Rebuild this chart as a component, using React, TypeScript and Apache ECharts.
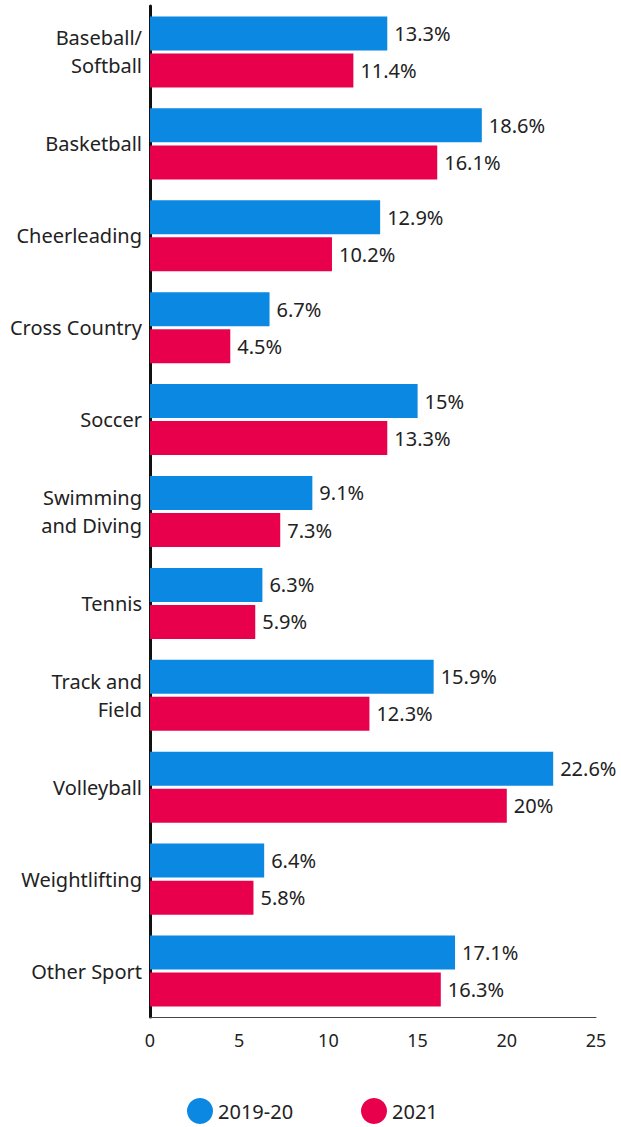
import React, { useEffect, useRef } from "react";
import * as echarts from "echarts";

const categories = [
  "Baseball/\nSoftball",
  "Basketball",
  "Cheerleading",
  "Cross Country",
  "Soccer",
  "Swimming\nand Diving",
  "Tennis",
  "Track and\nField",
  "Volleyball",
  "Weightlifting",
  "Other Sport",
];
const series2019 = [13.3, 18.6, 12.9, 6.7, 15, 9.1, 6.3, 15.9, 22.6, 6.4, 17.1];
const series2021 = [11.4, 16.1, 10.2, 4.5, 13.3, 7.3, 5.9, 12.3, 20, 5.8, 16.3];
const seriesNames = ["2019-20", "2021"];
const colors = ["#0a88e2", "#e8004c"];

const FONT = "'Noto Sans', sans-serif";

export default function App() {
  const ref = useRef<HTMLDivElement>(null);
  useEffect(() => {
    const chart = echarts.init(ref.current!, null, { renderer: "svg" });
    const label = {
      show: true,
      position: "right",
      distance: 7,
      formatter: "{c}%",
      color: "#222",
      fontSize: 20,
      fontFamily: FONT,
    };
    const legendBase = {
      top: 1093,
      icon: "circle",
      itemWidth: 26,
      itemHeight: 26,
      textStyle: { fontSize: 20, color: "#222", fontFamily: FONT },
    };
    chart.setOption({
      animation: false,
      grid: { left: 150, right: 25, top: 6, bottom: 110, containLabel: false },
      legend: [
        { ...legendBase, data: [seriesNames[0]], left: 182, itemTextGap: 21 },
        { ...legendBase, data: [seriesNames[1]], left: 356, itemTextGap: 12 },
      ],
      xAxis: {
        type: "value",
        min: 0,
        max: 25,
        interval: 5,
        axisLine: { show: true, lineStyle: { color: "#444", width: 1 } },
        axisTick: { show: false },
        splitLine: { show: false },
        axisLabel: { color: "#222", fontSize: 18, fontFamily: FONT, margin: 14 },
      },
      yAxis: {
        type: "category",
        data: categories,
        inverse: true,
        axisLine: { show: true, lineStyle: { color: "#111", width: 3 } },
        axisTick: { show: false },
        axisLabel: {
          color: "#222",
          fontSize: 20,
          fontFamily: FONT,
          lineHeight: 28,
          margin: 8,
          align: "right",
        },
      },
      series: [
        {
          name: seriesNames[0],
          type: "bar",
          data: series2019,
          barWidth: 34,
          barGap: "9%",
          itemStyle: { color: colors[0] },
          label,
        },
        {
          name: seriesNames[1],
          type: "bar",
          data: series2021,
          barWidth: 34,
          itemStyle: { color: colors[1] },
          label,
        },
      ],
    });
    return () => chart.dispose();
  }, []);
  return (
    <div
      ref={ref}
      style={{ position: "absolute", left: 0, top: 0, width: 621, height: 1127 }}
    />
  );
}
